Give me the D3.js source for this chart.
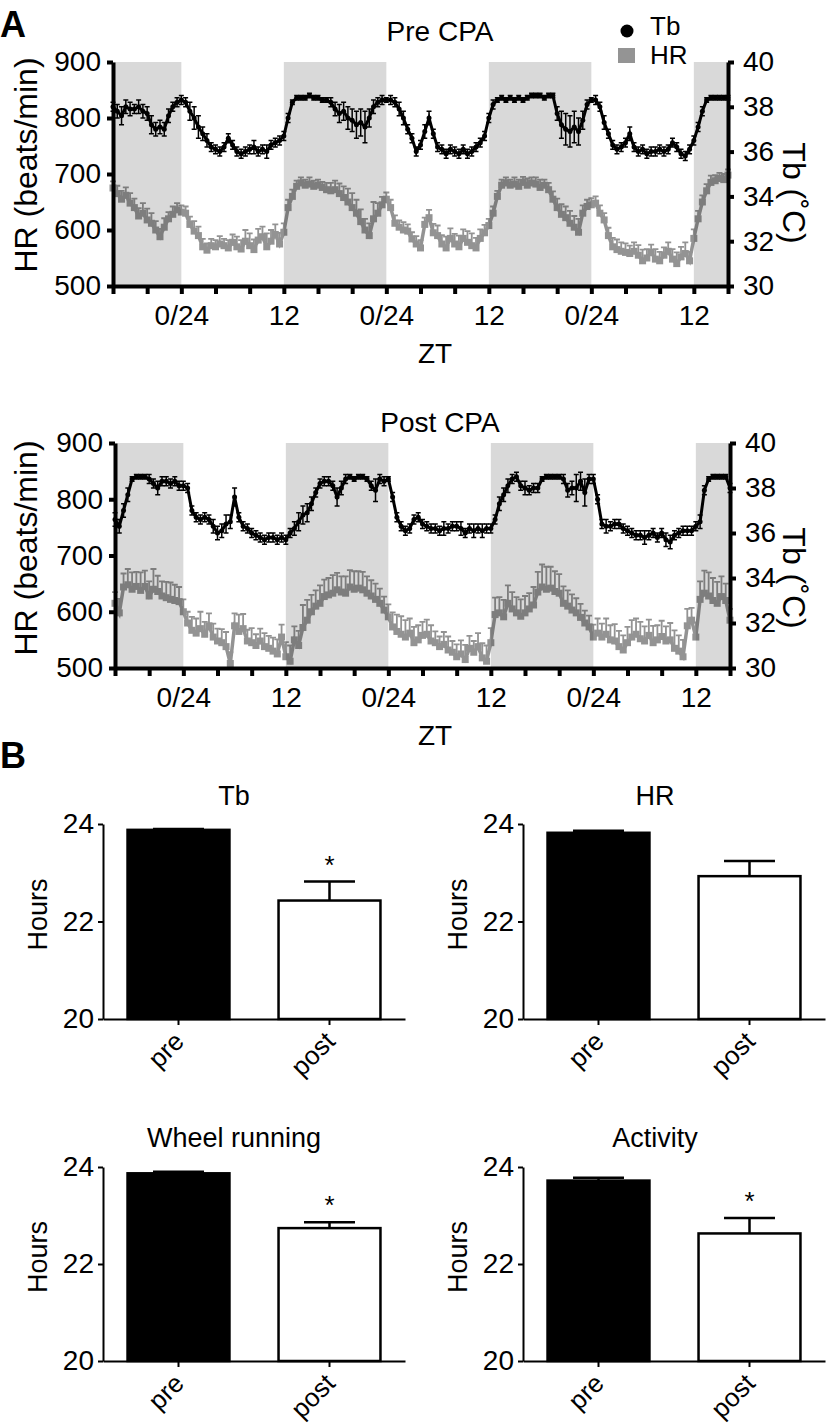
<!DOCTYPE html>
<html>
<head>
<meta charset="utf-8">
<script src="https://cdn.jsdelivr.net/npm/d3@7"></script>
<style>
  body { margin: 0; background: #fff; }
  svg { display: block; }
</style>
</head>
<body>
<svg id="fig" width="829" height="1424"></svg>
<script>
// ---------- Panel A data (half-hour bins, hours counted from ZT16 of day 1) ----------
const hours = d3.range(0, 72.5, 0.5);
const xTickHours = d3.range(0, 73, 4);
const xTickLabels = ["", "", "0/24", "", "", "12", "", "", "0/24", "", "", "12", "", "", "0/24", "", "", "12", ""];
const darkPhases = [[0, 8], [20, 32], [44, 56], [68, 72]];
const hrTicks = [500, 600, 700, 800, 900];
const tbTicks = [30, 32, 34, 36, 38, 40];

const tbPre = [
  38.0, 37.8, 37.6, 38.0, 37.9, 37.9, 38.0, 37.8,
  37.7, 37.2, 37.0, 37.1, 37.0, 37.6, 38.0, 38.2,
  38.3, 38.2, 37.8, 37.5, 37.1, 36.8, 36.5, 36.2,
  36.1, 36.0, 36.2, 36.6, 36.3, 36.0, 35.9, 36.0,
  36.1, 36.2, 36.0, 36.1, 36.0, 36.3, 36.4, 36.5,
  36.7, 37.5, 38.2, 38.4, 38.4, 38.4, 38.5, 38.4,
  38.4, 38.3, 38.3, 38.2, 37.9, 37.7, 37.8, 37.5,
  37.4, 37.2, 37.3, 37.1, 37.5, 38.0, 38.2, 38.3,
  38.3, 38.3, 38.2, 37.9, 37.5, 37.0, 36.6, 36.0,
  36.3, 36.9, 37.5, 36.8, 36.2, 36.1, 35.9, 36.1,
  36.0, 35.9, 36.1, 35.9, 36.0, 36.2, 36.4, 36.7,
  37.5, 38.1, 38.3, 38.4, 38.3, 38.4, 38.3, 38.4,
  38.3, 38.4, 38.5, 38.5, 38.5, 38.4, 38.5, 38.5,
  37.7, 37.2, 37.0, 36.9, 37.1, 36.9, 37.4, 38.1,
  38.3, 38.3, 38.0, 37.3, 36.8, 36.3, 36.1, 36.2,
  36.4, 36.8, 36.2, 36.0, 36.1, 35.9, 36.0, 36.0,
  36.1, 36.0, 36.1, 36.4, 36.2, 35.9, 35.8, 36.1,
  36.5, 37.1, 37.8, 38.3, 38.4, 38.4, 38.4, 38.4,
  38.4
];
const tbPreErr = [
  0.2, 0.3, 0.4, 0.3, 0.3, 0.2, 0.3, 0.3,
  0.3, 0.4, 0.3, 0.3, 0.3, 0.3, 0.2, 0.2,
  0.2, 0.2, 0.4, 0.5, 0.5, 0.3, 0.3, 0.2,
  0.2, 0.2, 0.2, 0.2, 0.2, 0.2, 0.2, 0.2,
  0.2, 0.3, 0.2, 0.2, 0.3, 0.2, 0.2, 0.2,
  0.2, 0.2, 0.1, 0.1, 0.1, 0.1, 0.1, 0.1,
  0.1, 0.1, 0.1, 0.2, 0.3, 0.4, 0.4, 0.5,
  0.5, 0.6, 0.6, 0.7, 0.4, 0.3, 0.2, 0.2,
  0.1, 0.2, 0.2, 0.3, 0.3, 0.2, 0.2, 0.2,
  0.2, 0.3, 0.3, 0.2, 0.2, 0.2, 0.2, 0.2,
  0.2, 0.2, 0.2, 0.2, 0.2, 0.2, 0.2, 0.2,
  0.2, 0.2, 0.1, 0.1, 0.1, 0.1, 0.1, 0.1,
  0.1, 0.1, 0.1, 0.1, 0.1, 0.1, 0.1, 0.1,
  0.3, 0.6, 0.7, 0.7, 0.7, 0.6, 0.4, 0.2,
  0.1, 0.2, 0.2, 0.3, 0.2, 0.2, 0.2, 0.2,
  0.2, 0.3, 0.2, 0.2, 0.2, 0.2, 0.2, 0.2,
  0.2, 0.2, 0.2, 0.2, 0.2, 0.2, 0.2, 0.2,
  0.2, 0.2, 0.2, 0.1, 0.1, 0.1, 0.1, 0.1,
  0.1
];
const hrPre = [
  675, 665, 655, 662, 648, 640, 625, 630,
  618, 612, 600, 588, 605, 620, 628, 636,
  632, 630, 610, 598, 590, 570, 564, 572,
  570, 575, 572, 568, 578, 570, 566, 580,
  572, 565, 582, 588, 570, 580, 592, 575,
  596, 640, 660, 678, 684, 680, 682, 678,
  680, 676, 672, 670, 672, 665, 658, 650,
  640, 630, 615, 600, 590, 620, 630, 645,
  655, 640, 612, 605, 600, 598, 584, 575,
  568, 610, 622, 595, 590, 575, 568, 585,
  575, 570, 585, 578, 572, 568, 585, 595,
  608, 630, 660, 680, 684, 680, 682, 678,
  685, 680, 684, 682, 676, 680, 672, 655,
  640, 628, 622, 612, 605, 596, 630, 642,
  645, 648, 630, 618, 590, 570, 565, 562,
  560, 558, 562, 555, 545, 550, 560, 548,
  545, 555, 562, 548, 540, 552, 558, 545,
  585, 620, 650, 670, 685, 688, 692, 690,
  698
];
const hrPreErr = [
  12, 14, 15, 14, 18, 16, 14, 18,
  20, 18, 16, 14, 16, 12, 14, 12,
  12, 12, 14, 18, 16, 14, 12, 12,
  12, 14, 12, 14, 14, 18, 16, 20,
  22, 18, 20, 18, 24, 20, 18, 20,
  16, 14, 12, 10, 10, 10, 12, 10,
  10, 10, 12, 14, 16, 18, 20, 24,
  26, 24, 22, 20, 22, 30, 18, 14,
  12, 14, 14, 12, 14, 12, 12, 14,
  14, 12, 14, 16, 18, 16, 20, 18,
  18, 20, 16, 20, 22, 18, 16, 14,
  12, 12, 10, 10, 10, 10, 12, 12,
  10, 12, 10, 12, 14, 10, 12, 14,
  16, 18, 20, 22, 20, 24, 14, 12,
  12, 12, 14, 12, 14, 16, 18, 16,
  16, 14, 16, 18, 20, 16, 14, 18,
  16, 14, 16, 18, 20, 18, 20, 16,
  16, 14, 12, 12, 12, 10, 10, 10,
  10
];

const tbPost = [
  36.6, 36.3, 37.0, 37.7, 38.4, 38.5, 38.5, 38.5,
  38.4, 38.2, 38.0, 38.3, 38.3, 38.2, 38.3, 38.1,
  38.1, 38.0, 37.0, 36.7, 36.6, 36.7, 36.6, 36.3,
  36.0, 36.1, 36.4, 36.5, 37.6, 36.7, 36.3, 36.2,
  36.0, 35.9, 35.8, 35.7, 35.8, 35.8, 35.7, 35.8,
  35.7, 36.0, 36.2, 36.5, 36.8, 36.9, 37.3, 37.8,
  38.2, 38.3, 38.3, 38.1, 37.6, 38.0, 38.4, 38.5,
  38.4, 38.5, 38.5, 38.4, 38.1, 37.9, 38.4, 38.3,
  38.4, 37.6, 36.7, 36.3, 36.1, 36.2, 36.6, 36.7,
  36.4, 36.3, 36.2, 36.2, 36.1, 36.2, 36.2, 36.3,
  36.3, 36.2, 36.0, 36.2, 36.1, 36.2, 36.1, 36.2,
  36.2, 36.6, 37.3, 37.7, 38.1, 38.4, 38.5, 38.1,
  38.0, 37.9, 38.0, 38.0, 38.4, 38.5, 38.5, 38.5,
  38.5, 38.4, 37.9, 38.0, 38.0, 38.3, 37.8, 38.4,
  38.4, 37.5, 36.4, 36.3, 36.3, 36.4, 36.4, 36.2,
  36.1, 36.0, 35.9, 35.9, 35.8, 35.9, 36.0, 35.8,
  36.0, 35.7, 35.6, 35.9, 36.0, 36.1, 36.1, 36.1,
  36.3, 36.5, 37.9, 38.4, 38.5, 38.5, 38.5, 38.5,
  38.0
];
const tbPostErr = [
  0.3, 0.3, 0.3, 0.3, 0.1, 0.1, 0.1, 0.1,
  0.2, 0.2, 0.3, 0.2, 0.2, 0.2, 0.2, 0.2,
  0.2, 0.2, 0.2, 0.2, 0.2, 0.2, 0.2, 0.3,
  0.3, 0.3, 0.4, 0.3, 0.4, 0.2, 0.2, 0.2,
  0.2, 0.2, 0.2, 0.2, 0.2, 0.2, 0.2, 0.2,
  0.2, 0.2, 0.3, 0.4, 0.4, 0.4, 0.3, 0.2,
  0.2, 0.2, 0.2, 0.2, 0.4, 0.3, 0.2, 0.1,
  0.1, 0.1, 0.1, 0.1, 0.2, 0.5, 0.2, 0.2,
  0.1, 0.2, 0.2, 0.2, 0.2, 0.2, 0.2, 0.2,
  0.2, 0.2, 0.2, 0.2, 0.2, 0.3, 0.2, 0.2,
  0.2, 0.3, 0.2, 0.2, 0.3, 0.2, 0.3, 0.2,
  0.2, 0.2, 0.3, 0.3, 0.3, 0.2, 0.2, 0.2,
  0.3, 0.2, 0.2, 0.2, 0.1, 0.1, 0.1, 0.1,
  0.1, 0.2, 0.3, 0.3, 0.6, 0.4, 0.6, 0.2,
  0.2, 0.2, 0.2, 0.3, 0.2, 0.2, 0.2, 0.2,
  0.2, 0.2, 0.2, 0.2, 0.3, 0.2, 0.2, 0.2,
  0.2, 0.3, 0.3, 0.2, 0.2, 0.2, 0.2, 0.2,
  0.2, 0.3, 0.2, 0.1, 0.1, 0.1, 0.1, 0.1,
  0.2
];
const hrPost = [
  615, 598, 644, 648, 640, 645, 638, 645,
  628, 640, 636, 628, 625, 622, 620, 618,
  600, 580, 567, 562, 570, 560, 575, 555,
  548, 545, 538, 508, 575, 565, 570, 548,
  545, 540, 548, 538, 535, 530, 525, 555,
  520, 512, 550, 540, 572, 585, 600, 610,
  615, 627, 630, 633, 639, 635, 633, 644,
  640, 642, 639, 633, 628, 622, 615, 603,
  591, 573, 565, 560, 555, 562, 545, 550,
  558, 560, 548, 545, 538, 542, 532, 528,
  520, 525, 515, 535, 528, 538, 518, 512,
  545, 595, 598, 591, 615, 605, 598, 592,
  598, 605, 612, 635, 644, 640, 642, 636,
  633, 615, 610, 603, 598, 590, 580, 573,
  555, 562, 555, 560, 550, 548, 538, 532,
  545, 555, 560, 552, 548, 558, 545, 550,
  556, 548, 550, 535, 530, 520, 575, 585,
  555, 622, 633, 628, 620, 615, 627, 620,
  585
];
const hrPostErr = [
  20, 25, 24, 28, 30, 26, 32, 28,
  26, 36, 28, 26, 28, 30, 28, 26,
  22, 20, 24, 26, 30, 22, 22, 24,
  22, 24, 26, 20, 22, 30, 26, 20,
  26, 20, 22, 24, 22, 24, 26, 22,
  26, 28, 24, 26, 40, 36, 30, 28,
  32, 30, 30, 32, 30, 28, 30, 30,
  32, 30, 32, 30, 28, 28, 26, 24,
  22, 26, 30, 32, 30, 26, 28, 26,
  24, 26, 28, 20, 18, 22, 24, 20,
  22, 24, 26, 22, 20, 24, 26, 28,
  26, 30, 28, 30, 32, 30, 28, 30,
  30, 28, 32, 36, 40, 40, 38, 36,
  34, 30, 28, 28, 26, 24, 22, 20,
  22, 26, 24, 28, 26, 30, 28, 26,
  28, 30, 28, 30, 26, 28, 30, 26,
  28, 26, 30, 32, 28, 30, 30, 22,
  26, 32, 40, 42, 40, 38, 36, 30,
  20
];

// ---------- Panel B data ----------
const barGroups = ["pre", "post"];
const barTitles = ["Tb", "HR", "Wheel running", "Activity"];
const barMeans = [[23.88, 22.43], [23.82, 22.93], [23.87, 22.74], [23.72, 22.63]];
const barErrors = [[0.02, 0.39], [0.04, 0.31], [0.03, 0.12], [0.06, 0.32]];
const barStars = [true, false, true, true];
const barTicks = [20, 22, 24];

// ---------- drawing ----------
const FONT = '"Liberation Sans", Arial, Helvetica, sans-serif';
const svg = d3.select("#fig").attr("font-family", FONT);

function styleAxis(g, fs, sw) {
  g.attr("font-size", null).attr("font-family", null);
  g.select(".domain").attr("stroke", "#000").attr("stroke-width", sw);
  g.selectAll(".tick line").attr("stroke", "#000").attr("stroke-width", sw);
  g.selectAll(".tick text").attr("fill", "#000").attr("font-size", fs);
}

function timePanel(p) {
  const x = d3.scaleLinear().domain([0, 72]).range([p.x0, p.x1]);
  const yHR = d3.scaleLinear().domain([500, 900]).range([p.y0, p.y1]);
  const yTb = d3.scaleLinear().domain([30, 40]).range([p.y0, p.y1]);
  const g = svg.append("g");

  // dark phase shading
  g.selectAll("rect.dark").data(darkPhases).join("rect")
    .attr("class", "dark")
    .attr("x", d => x(d[0]))
    .attr("width", d => x(d[1]) - x(d[0]))
    .attr("y", yHR(900))
    .attr("height", yHR(500) - yHR(900))
    .attr("fill", "#d9d9d9");

  const hrData = hours.map((h, i) => ({ h: h, v: p.hr[i], e: p.hrErr[i] }));
  const tbData = hours.map((h, i) => ({ h: h, v: p.tb[i], e: p.tbErr[i] }));

  // HR: one translucent layer so it darkens over the shading
  const hrLayer = g.append("g").attr("opacity", 0.42);
  hrLayer.selectAll("path.err").data(hrData).join("path")
    .attr("class", "err")
    .attr("fill", "none").attr("stroke", "#000").attr("stroke-width", 1.8)
    .attr("d", d => {
      const cx = x(d.h), yt = yHR(d.v + d.e);
      return `M${cx},${yHR(d.v)}V${yt}M${cx - 3},${yt}H${cx + 3}`;
    });
  hrLayer.append("path").datum(hrData)
    .attr("fill", "none").attr("stroke", "#000").attr("stroke-width", 3.5)
    .attr("d", d3.line().x(d => x(d.h)).y(d => yHR(d.v)));
  hrLayer.selectAll("rect.sq").data(hrData).join("rect")
    .attr("class", "sq")
    .attr("x", d => x(d.h) - 3.5).attr("y", d => yHR(d.v) - 3.5)
    .attr("width", 7).attr("height", 7).attr("fill", "#000");

  // Tb
  g.selectAll("path.tberr").data(tbData).join("path")
    .attr("class", "tberr")
    .attr("fill", "none").attr("stroke", "#000").attr("stroke-width", 1.5)
    .attr("d", d => {
      const cx = x(d.h), yt = yTb(d.v + d.e), yb = yTb(d.v - d.e);
      return `M${cx},${yb}V${yt}M${cx - 2.5},${yt}H${cx + 2.5}M${cx - 2.5},${yb}H${cx + 2.5}`;
    });
  g.append("path").datum(tbData)
    .attr("fill", "none").attr("stroke", "#000").attr("stroke-width", 3)
    .attr("d", d3.line().x(d => x(d.h)).y(d => yTb(d.v)));
  g.selectAll("circle.tb").data(tbData).join("circle")
    .attr("class", "tb")
    .attr("cx", d => x(d.h)).attr("cy", d => yTb(d.v)).attr("r", 2.5).attr("fill", "#000");

  // axes
  const ax = g.append("g").attr("transform", `translate(0,${p.y0})`)
    .call(d3.axisBottom(x).tickValues(xTickHours).tickFormat((d, i) => xTickLabels[i])
      .tickSize(8).tickPadding(11).tickSizeOuter(0));
  styleAxis(ax, 28, 4);
  const ayl = g.append("g").attr("transform", `translate(${p.x0},0)`)
    .call(d3.axisLeft(yHR).tickValues(hrTicks).tickSize(6).tickPadding(6).tickSizeOuter(0));
  styleAxis(ayl, 28, 4);
  const ayr = g.append("g").attr("transform", `translate(${p.x1},0)`)
    .call(d3.axisRight(yTb).tickValues(tbTicks).tickSize(6).tickPadding(9).tickSizeOuter(0));
  styleAxis(ayr, 28, 4);

  // labels
  g.append("text").attr("x", 440).attr("y", p.titleY)
    .attr("text-anchor", "middle").attr("font-size", 28).text(p.title);
  g.append("text").attr("x", 435).attr("y", p.y0 + 77)
    .attr("text-anchor", "middle").attr("font-size", 28).text("ZT");
  g.append("text")
    .attr("transform", `translate(37,${p.hrLabelY}) rotate(-90)`)
    .attr("text-anchor", "middle").attr("font-size", 32).text("HR (beats/min)");
  g.append("text")
    .attr("transform", `translate(783,${p.tbLabelY}) rotate(90)`)
    .attr("text-anchor", "middle").attr("font-size", 32).text("Tb (\u02DAC)");
}

timePanel({ x0: 113, x1: 728, y0: 286, y1: 62, tb: tbPre, tbErr: tbPreErr, hr: hrPre, hrErr: hrPreErr,
  title: "Pre CPA", titleY: 41, hrLabelY: 165, tbLabelY: 193 });
timePanel({ x0: 115, x1: 730, y0: 668, y1: 443, tb: tbPost, tbErr: tbPostErr, hr: hrPost, hrErr: hrPostErr,
  title: "Post CPA", titleY: 432, hrLabelY: 548, tbLabelY: 578 });

// legend (panel A)
svg.append("circle").attr("cx", 627).attr("cy", 31).attr("r", 6.5).attr("fill", "#000");
svg.append("text").attr("x", 650).attr("y", 34.5).attr("font-size", 26).text("Tb");
svg.append("rect").attr("x", 618).attr("y", 48).attr("width", 17).attr("height", 15)
  .attr("fill", "#000").attr("opacity", 0.42);
svg.append("text").attr("x", 650).attr("y", 64).attr("font-size", 26).text("HR");

// panel letters
svg.append("text").attr("x", 0).attr("y", 37).attr("font-size", 36).attr("font-weight", "bold").text("A");
svg.append("text").attr("x", 0).attr("y", 768).attr("font-size", 36).attr("font-weight", "bold").text("B");

// ---------- Panel B bars ----------
const barLayout = [
  { x0: 103, x1: 405, y0: 1019, y1: 824, titleX: 234, titleY: 805, labelX: 47 },
  { x0: 523, x1: 825, y0: 1019, y1: 824, titleX: 655, titleY: 805, labelX: 467 },
  { x0: 103, x1: 405, y0: 1361, y1: 1167, titleX: 234, titleY: 1147, labelX: 47 },
  { x0: 523, x1: 825, y0: 1361, y1: 1167, titleX: 655, titleY: 1147, labelX: 467 }
];

barLayout.forEach((p, k) => {
  const x = d3.scaleBand().domain(barGroups).range([p.x0, p.x1]).paddingInner(0.325).paddingOuter(0.1625);
  const y = d3.scaleLinear().domain([20, 24]).range([p.y0, p.y1]);
  const g = svg.append("g");
  const rows = barGroups.map((grp, j) => ({ grp: grp, m: barMeans[k][j], e: barErrors[k][j] }));

  g.selectAll("path.err").data(rows).join("path")
    .attr("class", "err")
    .attr("fill", "none").attr("stroke", "#000").attr("stroke-width", 2.5)
    .attr("d", d => {
      const cx = x(d.grp) + x.bandwidth() / 2, yt = y(d.m + d.e), hw = x.bandwidth() / 4;
      return `M${cx},${y(d.m)}V${yt}M${cx - hw},${yt}H${cx + hw}`;
    });
  g.selectAll("rect.bar").data(rows).join("rect")
    .attr("class", "bar")
    .attr("x", d => x(d.grp)).attr("width", x.bandwidth())
    .attr("y", d => y(d.m)).attr("height", d => y(20) - y(d.m))
    .attr("fill", (d, j) => j === 0 ? "#000" : "#fff")
    .attr("stroke", "#000").attr("stroke-width", 2.5);

  if (barStars[k]) {
    const d = rows[1];
    g.append("text").attr("x", x(d.grp) + x.bandwidth() / 2).attr("y", y(d.m + d.e) - 8)
      .attr("text-anchor", "middle").attr("font-size", 26).text("*");
  }

  const ax = g.append("g").attr("transform", `translate(0,${p.y0})`)
    .call(d3.axisBottom(x).tickSize(6).tickSizeOuter(0));
  styleAxis(ax, 26, 2);
  ax.selectAll(".tick text")
    .attr("y", null).attr("dy", null)
    .attr("transform", "translate(7,24) rotate(-45)")
    .attr("text-anchor", "end");

  const ay = g.append("g").attr("transform", `translate(${p.x0},0)`)
    .call(d3.axisLeft(y).tickValues(barTicks).tickFormat(d3.format("d"))
      .tickSize(5).tickPadding(4).tickSizeOuter(0));
  styleAxis(ay, 28, 2);

  g.append("text").attr("x", p.titleX).attr("y", p.titleY)
    .attr("text-anchor", "middle").attr("font-size", 27).text(barTitles[k]);
  g.append("text")
    .attr("transform", `translate(${p.labelX},${(p.y0 + p.y1) / 2 - 7}) rotate(-90)`)
    .attr("text-anchor", "middle").attr("font-size", 27).text("Hours");
});
</script>
</body>
</html>
